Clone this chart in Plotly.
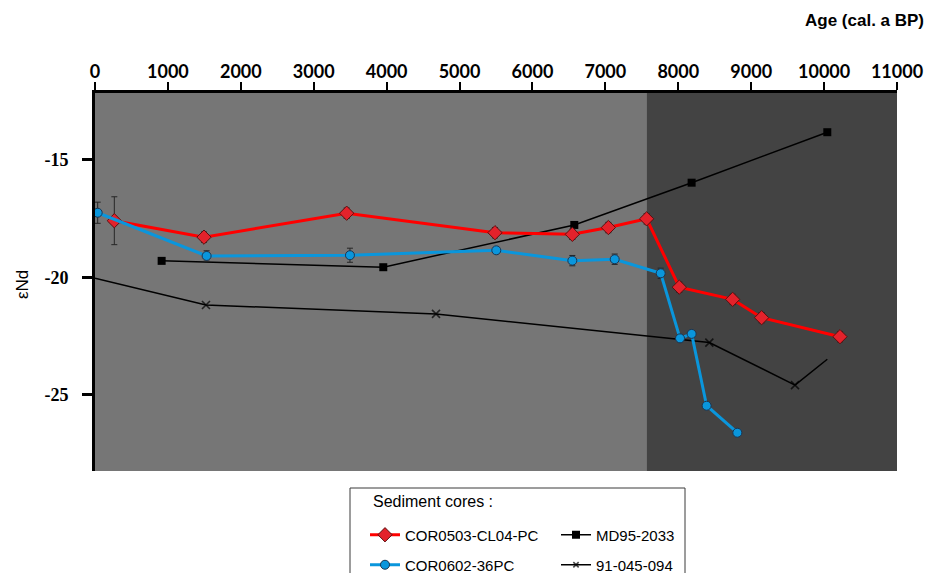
import plotly.graph_objects as go

# --- Nd isotope records (age in cal. a BP, epsilon Nd) ---
COR0503_AGE = [265, 1495, 3452, 5486, 6547, 7041, 7566, 8014, 8746, 9143, 10218]
COR0503_END = [-17.59, -18.29, -17.27, -18.10, -18.17, -17.88, -17.51, -20.42, -20.94, -21.72, -22.53]
COR0503_ERR = [1.02, 0.22, 0.22, 0.22, 0.22, 0.22, 0.22, 0.22, 0.22, 0.22, 0.22]

COR0602_AGE = [37, 1531, 3497, 5504, 6547, 7128, 7759, 8024, 8183, 8389, 8810]
COR0602_END = [-17.25, -19.09, -19.06, -18.85, -19.29, -19.23, -19.83, -22.60, -22.41, -25.47, -26.62]
COR0602_ERR = [0.45, 0.22, 0.3, 0.12, 0.22, 0.22, 0.22, 0.12, 0.12, 0.12, 0.12]

MD95_AGE = [914, 3954, 6574, 8183, 10044]
MD95_END = [-19.30, -19.57, -17.77, -15.97, -13.82]

C91_AGE = [0, 1522, 4677, 8426, 9601, 10044]
C91_END = [-20.04, -21.18, -21.56, -22.78, -24.59, -23.49]
C91_MARKER_SIZE = [0, 8, 8, 8, 8, 0]

# period boundary (dark shading) and axes
DARK_START = 7570
AGE_RANGE = [0, 11000]
END_RANGE = [-28.25, -12.15]
Y_TICKS = [-15, -20, -25]
Y_TICK_TEXT = ["-15", "-20", "-25"]

fig = go.Figure()

fig.add_trace(go.Scatter(
    x=C91_AGE, y=C91_END, name="91-045-094", mode="lines+markers",
    line=dict(color="black", width=1.5),
    marker=dict(symbol="x-thin", size=C91_MARKER_SIZE, color="black",
                line=dict(color="black", width=1.6)),
    legend="legend4",
))
fig.add_trace(go.Scatter(
    x=MD95_AGE, y=MD95_END, name="MD95-2033", mode="lines+markers",
    line=dict(color="black", width=1.5),
    marker=dict(symbol="square", size=8, color="black"),
    legend="legend2",
))
fig.add_trace(go.Scatter(
    x=COR0503_AGE, y=COR0503_END, name="COR0503-CL04-PC", mode="lines+markers",
    line=dict(color="#ff0000", width=3),
    marker=dict(symbol="diamond", size=11, color="#e3222b",
                line=dict(color="#5a1010", width=1)),
    error_y=dict(type="data", array=COR0503_ERR, visible=True,
                 color="#262626", thickness=1, width=3),
    legend="legend",
))
fig.add_trace(go.Scatter(
    x=COR0602_AGE, y=COR0602_END, name="COR0602-36PC", mode="lines+markers",
    line=dict(color="#0a96dc", width=3),
    marker=dict(symbol="circle", size=9, color="#0a96dc",
                line=dict(color="#1c3550", width=1)),
    error_y=dict(type="data", array=COR0602_ERR, visible=True,
                 color="#262626", thickness=1, width=3),
    legend="legend3",
))

L, T, W, H = 95, 93, 802, 378


def px_x(px):
    return (px - L) / W


def px_y(py):
    return (T + H - py) / H


legend_font = dict(family="Liberation Sans, Arial", size=15, color="black")
common_legend = dict(bgcolor="rgba(0,0,0,0)", borderwidth=0, font=legend_font,
                     xanchor="left", yanchor="middle", orientation="v")

fig.update_layout(
    width=932, height=573,
    margin=dict(l=L, r=932 - L - W, t=T, b=573 - T - H, autoexpand=False),
    paper_bgcolor="white",
    plot_bgcolor="#767676",
    showlegend=True,
    legend=dict(x=px_x(365), y=px_y(535), **common_legend),
    legend2=dict(x=px_x(556), y=px_y(535), **common_legend),
    legend3=dict(x=px_x(365), y=px_y(565), **common_legend),
    legend4=dict(x=px_x(556), y=px_y(565), **common_legend),
    xaxis=dict(
        side="top", range=AGE_RANGE, tick0=0, dtick=1000, tickformat="d",
        ticks="outside", ticklen=8, tickwidth=2, tickcolor="black",
        showline=True, linewidth=3, linecolor="black",
        showgrid=False, zeroline=False,
        tickfont=dict(family="Lato", size=18, color="black", weight="bold"),
        ticklabelstandoff=-3,
    ),
    yaxis=dict(
        range=END_RANGE, tickvals=Y_TICKS, ticktext=Y_TICK_TEXT,
        ticks="outside", ticklen=10, tickwidth=2.5, tickcolor="black",
        showline=True, linewidth=3, linecolor="black",
        showgrid=False, zeroline=False,
        tickfont=dict(family="Liberation Serif", size=18, color="black", weight="bold"),
        ticklabelstandoff=10,
    ),
    shapes=[
        dict(type="rect", xref="x", yref="paper", x0=DARK_START, x1=AGE_RANGE[1],
             y0=0, y1=1, fillcolor="#434343", line=dict(width=0), layer="below"),
        dict(type="rect", xref="paper", yref="paper", x0=px_x(350), x1=px_x(685),
             y0=px_y(640), y1=px_y(488), fillcolor="white",
             line=dict(color="#3a3a3a", width=1), layer="above"),
    ],
    annotations=[
        dict(text="Age (cal. a BP)", xref="paper", yref="paper",
             x=px_x(864), y=px_y(20), xanchor="center", yanchor="middle",
             showarrow=False,
             font=dict(family="Liberation Sans, Arial", size=17, color="black", weight="bold")),
        dict(text="εNd", xref="paper", yref="paper", x=px_x(22), y=px_y(285),
             xanchor="center", yanchor="middle", textangle=-90, showarrow=False,
             font=dict(family="Liberation Sans, Arial", size=17, color="black")),
        dict(text="Sediment cores :", xref="paper", yref="paper",
             x=px_x(371), y=px_y(501), xanchor="left", yanchor="middle",
             showarrow=False,
             font=dict(family="Liberation Sans, Arial", size=16, color="black")),
    ],
)

fig.write_html("out.html")
